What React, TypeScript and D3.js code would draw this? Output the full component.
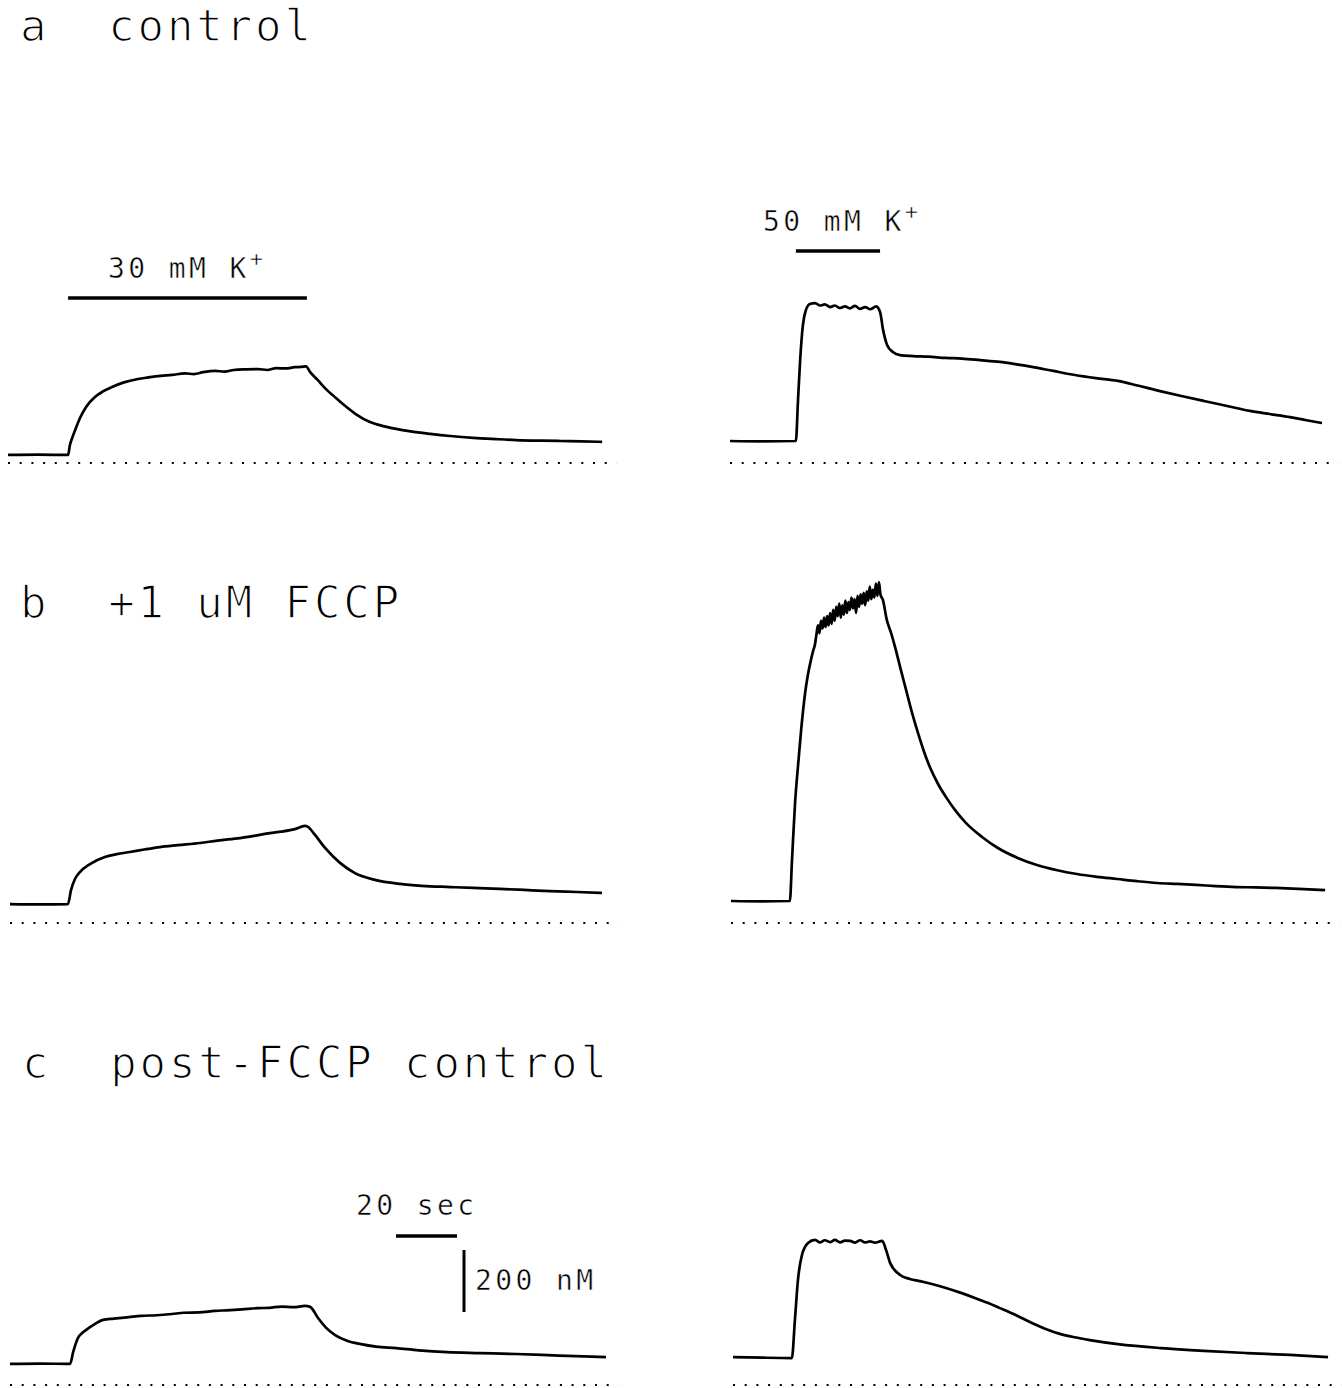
import React from 'react';
import * as d3 from 'd3';

// time in seconds from start of each sweep, [Ca2+] in nM above the dotted zero line
const aLeft: [number, number][] = [
  [0, 26], [10, 27], [19.7, 26], [20.3, 58], [21.2, 85], [22.0, 106], [23.6, 145], [25.6, 181], [28.5, 213],
  [31, 230], [34.1, 245], [38, 260], [42.6, 271], [46, 276], [50, 281], [53.8, 284], [58, 289], [61, 287],
  [64, 293], [67.9, 297], [71, 295], [74, 300], [78, 302], [82, 303], [85, 300], [88, 306], [91, 305],
  [94, 309], [96.1, 310], [97.7, 312], [99.0, 294], [101.5, 268], [104.6, 235], [107.5, 210], [110.2, 187],
  [114, 158], [118.7, 132], [123, 119], [127.2, 110], [132, 102], [138.4, 94], [145, 87], [152.5, 81],
  [160, 77], [166.6, 74], [175, 72], [181, 71], [188, 70], [194.8, 68]
];

const aRight: [number, number][] = [
  [0, 71], [10, 70], [21.6, 71], [22.3, 203], [23.0, 332], [23.9, 445], [24.9, 494], [26.2, 513], [27.9, 516],
  [29.5, 508], [31.1, 512], [32.8, 503], [34.4, 508], [36, 500], [37.7, 505], [39.3, 499], [41.0, 507],
  [42.6, 497], [44.3, 503], [46, 496], [47.9, 505], [49.2, 487], [50.2, 429], [51.5, 381], [53.4, 358],
  [55.7, 348], [60, 345], [65, 343], [70.8, 339], [76, 337], [82, 332], [88.5, 326], [94, 318], [99.0, 310],
  [106, 297], [113.1, 284], [120, 274], [127.2, 265], [134, 249], [141.0, 232], [148, 216], [155.4, 200],
  [163, 184], [170.5, 168], [177, 158], [183.6, 148], [189, 138], [194.1, 129]
];

const bLeft: [number, number][] = [
  [0, 61], [10, 60], [19.0, 61], [20.0, 106], [21.3, 142], [23.0, 165], [26.2, 190], [31.1, 213], [35, 222],
  [39.3, 229], [44, 237], [49.2, 245], [55, 251], [62.3, 258], [68, 266], [75.4, 274], [80, 281],
  [85.2, 290], [89, 295], [93.4, 303], [96.7, 313], [97.7, 310], [100, 284], [103.3, 242], [108.2, 194],
  [113.1, 161], [119.7, 139], [127.9, 126], [135, 120], [144.3, 116], [152, 113], [160.7, 110],
  [170, 106], [177.0, 103], [186, 100], [194.1, 97]
];

const bRight: [number, number][] = [
  [0, 71], [10, 70], [19.3, 71], [20.0, 203], [21.0, 387], [22.0, 510], [23.0, 623], [24.3, 742],
  [25.2, 800], [26.2, 848], [27.0, 880], [27.5, 897], [28.0, 930], [28.5, 960], [29.0, 935], [29.5, 975],
  [30.0, 950], [30.5, 985], [31.0, 955], [31.5, 990], [32.0, 960], [32.5, 1000], [33.0, 965], [33.5, 1010],
  [34.0, 975], [34.5, 1020], [35.0, 990], [35.5, 1030], [36.0, 985], [36.5, 1025], [37.0, 995],
  [37.5, 1040], [38.0, 1000], [38.5, 1035], [39.0, 1010], [39.5, 1050], [40.0, 1015], [40.5, 1045],
  [41.0, 1000], [41.5, 1055], [42.0, 1020], [42.5, 1060], [43.0, 1030], [43.5, 1065], [44.0, 1025],
  [44.5, 1070], [45.0, 1040], [45.5, 1085], [46.0, 1045], [46.5, 1075], [47.0, 1050], [47.5, 1095],
  [48.0, 1055], [48.5, 1100], [49.0, 1060], [49.8, 1042], [51.1, 977], [52.5, 935], [53.8, 890],
  [55.6, 820], [57.4, 752], [59.3, 680], [61.3, 613], [63.2, 555], [65.2, 503], [67.8, 450], [70.5, 406],
  [73.8, 360], [77.0, 323], [82, 280], [87.5, 242], [94, 210], [100.3, 187], [107, 170], [113.4, 158],
  [120, 149], [126.6, 142], [133, 135], [139.7, 129], [146, 126], [152.5, 123], [159, 119], [165.6, 116],
  [172, 115], [178.7, 113], [186, 110], [194.8, 106]
];

const cLeft: [number, number][] = [
  [0, 68], [10, 69], [19.7, 68], [20.7, 106], [21.5, 132], [22.3, 152], [23.5, 166], [24.9, 177], [27.9, 197],
  [30.5, 210], [34, 214], [39.0, 219], [43, 223], [48, 225], [53.1, 229], [57, 233], [62, 234],
  [67.2, 239], [71, 241], [76, 244], [81.3, 248], [85, 249], [89, 253], [93, 251], [96.7, 255],
  [98.4, 252], [101.0, 216], [103.5, 186], [106.6, 161], [110.5, 143], [115.1, 132], [120, 124],
  [126.6, 119], [134, 112], [143.3, 106], [154, 103], [165.9, 100], [180, 95], [195.4, 90]
];

const cRight: [number, number][] = [
  [0, 90], [10, 88], [19.3, 87], [20.3, 210], [21.3, 339], [22.6, 419], [24.6, 458], [26.9, 468],
  [28.5, 460], [30.1, 467], [31.8, 461], [33.4, 468], [35.1, 460], [36.7, 466], [38.4, 465], [40, 459],
  [41.7, 467], [43.3, 460], [44.9, 463], [46.6, 459], [48.9, 465], [50.2, 435], [51.5, 394], [54.8, 355],
  [58, 342], [61.3, 335], [65.5, 325], [69.8, 313], [74.5, 298], [79.3, 281], [83.5, 265], [87.5, 248],
  [93, 224], [98.0, 200], [102.5, 181], [107.2, 165], [112, 154], [117.0, 145], [126.2, 132],
  [140.3, 119], [154.4, 110], [168.5, 103], [182.6, 97], [195.1, 90]
];

const panelLabels = ['a  control', 'b  +1 uM FCCP', 'c  post-FCCP control'];
const stimulusLabels = ['30 mM K', '50 mM K'];
const stimulusWindows: [number, number][] = [[19.7, 98.0], [21.6, 49.2]];
const scaleTime = 20; // sec
const scaleConc = 200; // nM

const PX_PER_SEC = 3.05;
const PX_PER_NM = 0.31;
const SWEEP = 199.5; // seconds covered by the dotted zero line

const layout = [
  { data: aLeft, x0: 8, yZero: 463 },
  { data: aRight, x0: 730, yZero: 463 },
  { data: bLeft, x0: 10, yZero: 923 },
  { data: bRight, x0: 731, yZero: 923 },
  { data: cLeft, x0: 10, yZero: 1385 },
  { data: cRight, x0: 733, yZero: 1385 },
];

const FONT = "'DejaVu Sans Mono', monospace";

function Trace({ data, x0, yZero }: { data: [number, number][]; x0: number; yZero: number }) {
  const x = d3.scaleLinear().domain([0, 1]).range([x0, x0 + PX_PER_SEC]);
  const y = d3.scaleLinear().domain([0, 1]).range([yZero, yZero - PX_PER_NM]);
  const line = d3.line<[number, number]>().x(d => x(d[0])).y(d => y(d[1])).curve(d3.curveMonotoneX);
  return (
    <g>
      <line x1={x(0)} x2={x(SWEEP)} y1={yZero} y2={yZero} stroke="#000" strokeWidth={2}
        strokeDasharray="2 9.7" />
      <path d={line(data) || ''} fill="none" stroke="#000" strokeWidth={2.7} strokeLinejoin="round" />
    </g>
  );
}

export default function App() {
  const xa = d3.scaleLinear().domain([0, 1]).range([8, 8 + PX_PER_SEC]);
  const xaR = d3.scaleLinear().domain([0, 1]).range([730, 730 + PX_PER_SEC]);
  const bigStyle = {
    fontFamily: FONT, fontSize: 44, letterSpacing: 2.9,
    stroke: '#fff', strokeWidth: 1.4, paintOrder: 'normal',
  } as React.CSSProperties;
  const smallStyle = {
    fontFamily: FONT, fontSize: 28, letterSpacing: 3.4,
    stroke: '#fff', strokeWidth: 0.5, paintOrder: 'normal',
  } as React.CSSProperties;
  const sbX = 396, sbY = 1236;
  return (
    <svg width={1342} height={1388} style={{ position: 'absolute', left: 0, top: 0, background: '#fff' }}>
      <rect width={1342} height={1388} fill="#fff" />
      {layout.map((p, i) => <Trace key={i} {...p} />)}

      <text x={20} y={41} style={bigStyle} xmlSpace="preserve">{panelLabels[0]}</text>
      <text x={20} y={618} style={bigStyle} xmlSpace="preserve">{panelLabels[1]}</text>
      <text x={22} y={1078} style={bigStyle} xmlSpace="preserve">{panelLabels[2]}</text>

      <line x1={xa(stimulusWindows[0][0])} x2={xa(stimulusWindows[0][1])} y1={298} y2={298} stroke="#000" strokeWidth={3.5} />
      <text x={108} y={278} style={smallStyle}>{stimulusLabels[0]}<tspan dy={-12} fontSize={22}>+</tspan></text>

      <line x1={xaR(stimulusWindows[1][0])} x2={xaR(stimulusWindows[1][1])} y1={251} y2={251} stroke="#000" strokeWidth={3.5} />
      <text x={763} y={231} style={smallStyle}>{stimulusLabels[1]}<tspan dy={-12} fontSize={22}>+</tspan></text>

      <line x1={sbX} x2={sbX + scaleTime * PX_PER_SEC} y1={sbY} y2={sbY} stroke="#000" strokeWidth={3.5} />
      <text x={356} y={1215} style={smallStyle}>{`${scaleTime} sec`}</text>
      <line x1={464} x2={464} y1={1250} y2={1250 + scaleConc * PX_PER_NM} stroke="#000" strokeWidth={3} />
      <text x={475} y={1290} style={smallStyle}>{`${scaleConc} nM`}</text>
    </svg>
  );
}
